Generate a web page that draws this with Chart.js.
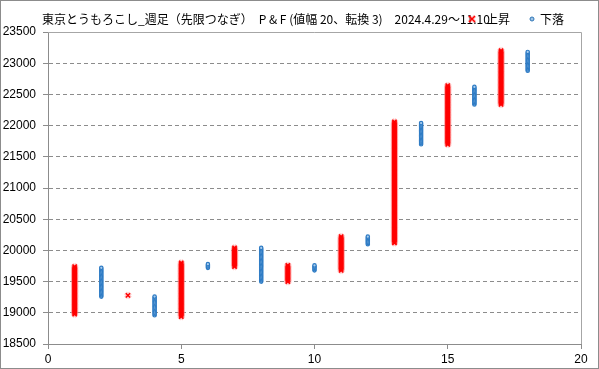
<!DOCTYPE html>
<html>
<head>
<meta charset="utf-8">
<script src="https://cdn.jsdelivr.net/npm/chart.js@4/dist/chart.umd.min.js"></script>
<style>
  html, body { margin: 0; padding: 0; background: #fff; }
  canvas { display: block; }
</style>
</head>
<body>
<canvas id="pf" width="599" height="369"></canvas>
<script>
/* --------------------------------------------
   Data (P&F columns: box 20, reversal 3)
-------------------------------------------- */
const titleText = "東京とうもろこし_週足（先限つなぎ）　P & F (値幅 20、転換 3)　2024.4.29～11.10";
const boxSize = 20;
const columnNo = [1, 2, 3, 4, 5, 6, 7, 8, 9, 10, 11, 12, 13, 14, 15, 16, 17, 18];
const columnType = ["X", "O", "X", "O", "X", "O", "X", "O", "X", "O", "X", "O", "X", "O", "X", "O", "X", "O"];
const columnLow = [18980, 19260, 19280, 18960, 18940, 19720, 19740, 19500, 19500, 19680, 19680, 20100, 20120, 21700, 21700, 22340, 22340, 22880];
const columnHigh = [19740, 19720, 19280, 19260, 19800, 19780, 20040, 20040, 19760, 19760, 20220, 20220, 22060, 22040, 22640, 22620, 23200, 23180];
const yTicks = [18500, 19000, 19500, 20000, 20500, 21000, 21500, 22000, 22500, 23000, 23500];
const xTicks = [0, 5, 10, 15, 20];

/* --------------------------------------------
   Boxes from column ranges
-------------------------------------------- */
const boxesOf = (type) => {
  const pts = [];
  columnNo.forEach((c, i) => {
    if (columnType[i] !== type) return;
    for (let v = columnLow[i]; v <= columnHigh[i]; v += boxSize) pts.push({ x: c, y: v });
  });
  return pts;
};

const upBoxes = boxesOf("X");
const downBoxes = boxesOf("O");

/* --------------------------------------------
   Plugins: frame, plot border, title, legend
-------------------------------------------- */
const frame = {
  id: "frame",
  beforeDraw(chart) {
    const { ctx, width, height } = chart;
    ctx.save();
    ctx.fillStyle = "#fff";
    ctx.fillRect(0, 0, width, height);
    ctx.restore();
  },
  afterDraw(chart) {
    const { ctx, width, height, chartArea: a } = chart;
    ctx.save();
    ctx.strokeStyle = "#a6a6a6";
    ctx.lineWidth = 1;
    ctx.beginPath();
    ctx.moveTo(a.left, Math.round(a.top) + 0.5);
    ctx.lineTo(Math.round(a.right) + 0.5, Math.round(a.top) + 0.5);
    ctx.lineTo(Math.round(a.right) + 0.5, a.bottom);
    ctx.stroke();

    ctx.strokeStyle = "#8c8c8c";
    ctx.strokeRect(0.5, 0.5, width - 1, height - 1);

    ctx.fillStyle = "#000";
    ctx.font = "12px 'Noto Sans CJK JP'";
    ctx.textBaseline = "middle";
    ctx.textAlign = "left";
    ctx.fillText(titleText, 42, 19);

    // legend, drawn over the end of the title as in the original
    ctx.strokeStyle = "rgba(255,120,120,0.4)";
    ctx.lineWidth = 3.5;
    ctx.beginPath();
    ctx.moveTo(469, 16); ctx.lineTo(475, 22);
    ctx.moveTo(475, 16); ctx.lineTo(469, 22);
    ctx.stroke();
    ctx.strokeStyle = "#ff0000";
    ctx.lineWidth = 1.5;
    ctx.stroke();
    ctx.fillStyle = "#9dc3e6";
    ctx.strokeStyle = "#2e75b6";
    ctx.lineWidth = 1;
    ctx.beginPath();
    ctx.arc(532, 19, 2, 0, Math.PI * 2);
    ctx.fill();
    ctx.stroke();
    ctx.fillStyle = "#000";
    ctx.fillText("上昇", 486, 19);
    ctx.fillText("下落", 540, 19);
    ctx.restore();
  },
};

/* --------------------------------------------
   Chart
-------------------------------------------- */
new Chart(document.getElementById("pf"), {
  type: "scatter",
  data: {
    datasets: [
      {
        label: "上昇",
        data: upBoxes,
        pointStyle: "crossRot",
        pointRadius: 3,
        pointBorderWidth: 1.5,
        pointBorderColor: "#ff0000",
        pointBackgroundColor: "#ff0000",
      },
      {
        label: "下落",
        data: downBoxes,
        pointStyle: "circle",
        pointRadius: 1.7,
        pointBorderWidth: 1.2,
        pointBorderColor: "#2e7bc4",
        pointBackgroundColor: "#a9cdee",
      },
      {
        // soft glow behind the X marks (drawn first, underneath)
        label: "halo",
        data: upBoxes,
        pointStyle: "crossRot",
        pointRadius: 3.5,
        pointBorderWidth: 4,
        pointBorderColor: "rgba(255,120,120,0.35)",
        pointBackgroundColor: "rgba(0,0,0,0)",
      },
    ],
  },
  options: {
    responsive: false,
    animation: false,
    events: [],
    layout: { padding: { left: 0, right: 18, top: 32, bottom: 0 } },
    plugins: {
      legend: { display: false },
      title: { display: false },
      tooltip: { enabled: false },
    },
    scales: {
      x: {
        type: "linear",
        min: 0,
        max: 20,
        afterBuildTicks: (s) => { s.ticks = xTicks.map((v) => ({ value: v })); },
        afterFit: (s) => { s.height = 25; },
        grid: { drawOnChartArea: false, drawTicks: true, tickLength: 5, tickColor: "#8c8c8c" },
        border: { color: "#8c8c8c", width: 1 },
        ticks: { color: "#000", font: { family: "'Liberation Sans'", size: 12 }, padding: 3, maxRotation: 0 },
      },
      y: {
        min: 18500,
        max: 23500,
        afterBuildTicks: (s) => { s.ticks = yTicks.map((v) => ({ value: v })); },
        afterFit: (s) => { s.width = 48; },
        grid: { color: "#8c8c8c", tickLength: 5, tickColor: "#8c8c8c", tickBorderDash: [] },
        border: { color: "#8c8c8c", width: 1, dash: [4, 3] },
        ticks: {
          color: "#000",
          font: { family: "'Liberation Sans'", size: 12 },
          padding: 7,
          callback: (v) => String(v),
        },
      },
    },
  },
  plugins: [frame],
});
</script>
</body>
</html>
